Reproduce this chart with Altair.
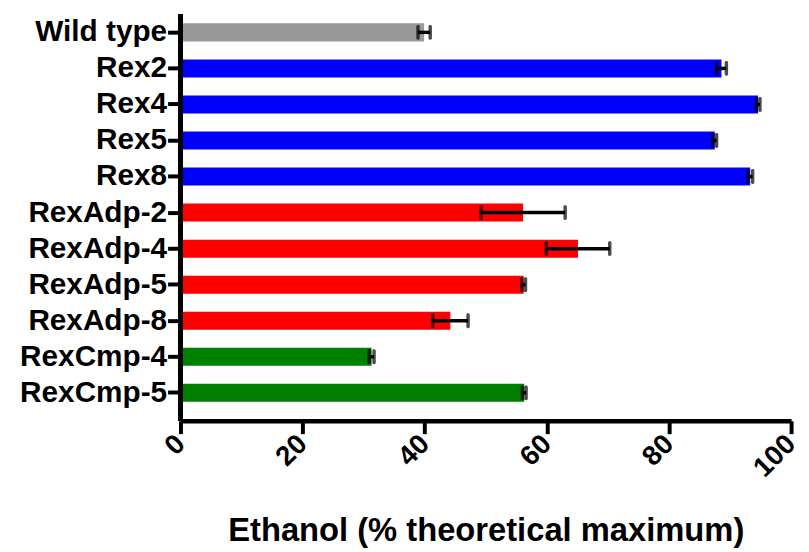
import altair as alt
import pandas as pd

strains = ["Wild type", "Rex2", "Rex4", "Rex5", "Rex8",
           "RexAdp-2", "RexAdp-4", "RexAdp-5", "RexAdp-8",
           "RexCmp-4", "RexCmp-5"]
means = [39.9, 88.6, 94.6, 87.5, 93.3, 56.1, 65.1, 56.2, 44.2, 31.3, 56.3]
errors = [1.0, 0.8, 0.3, 0.3, 0.4, 6.9, 5.2, 0.3, 2.9, 0.4, 0.3]
groups = ["Wild type", "Rex", "Rex", "Rex", "Rex",
          "RexAdp", "RexAdp", "RexAdp", "RexAdp", "RexCmp", "RexCmp"]
group_names = ["Wild type", "Rex", "RexAdp", "RexCmp"]
group_colors = ["#999999", "#0000FF", "#FF0000", "#008000"]
x_ticks = [0, 20, 40, 60, 80, 100]

df = pd.DataFrame({"strain": strains, "mean": means, "err": errors, "group": groups})
df["lo"] = df["mean"] - df["err"]
df["hi"] = df["mean"] + df["err"]

W = 616
H = 410
BAND = 400
FONT = "Liberation Sans"

y_enc = alt.Y(
    "strain:N", sort=strains,
    scale=alt.Scale(range=[0, BAND], paddingInner=0.5, paddingOuter=0.25),
    axis=alt.Axis(title=None, labelFont=FONT, labelFontWeight="bold", labelFontSize=30,
                  labelColor="black", labelPadding=1, labelLimit=400,
                  tickSize=13, tickWidth=4, tickColor="black", domain=False),
)

x_scale = alt.Scale(domain=[0, 100], nice=False, zero=True)

bars = alt.Chart(df).mark_bar().encode(
    x=alt.X("mean:Q", scale=x_scale,
            axis=alt.Axis(values=x_ticks, title="Ethanol (% theoretical maximum)",
                          titleFont=FONT, titleFontWeight="bold", titleFontSize=33,
                          titleColor="black", titleBaseline="alphabetic", titleY=121,
                          labelFont=FONT, labelFontWeight="bold", labelFontSize=28,
                          labelColor="black", labelAngle=315, labelAlign="right",
                          labelBaseline="middle", labelPadding=6,
                          tickSize=13, tickWidth=4, tickColor="black",
                          domainWidth=4.5, domainColor="black", grid=False)),
    y=y_enc,
    color=alt.Color("group:N", scale=alt.Scale(domain=group_names, range=group_colors), legend=None),
)

err_line = alt.Chart(df).mark_rule(color="black", strokeWidth=3.5).encode(
    x=alt.X("lo:Q", scale=x_scale), x2="hi:Q", y=alt.Y("strain:N", sort=strains)
)
cap_lo = alt.Chart(df).mark_tick(color="black", thickness=3.5, size=15, cornerRadius=1.5).encode(
    x=alt.X("lo:Q", scale=x_scale), y=alt.Y("strain:N", sort=strains)
)
cap_hi = alt.Chart(df).mark_tick(color="black", thickness=3.5, size=15, cornerRadius=1.5).encode(
    x=alt.X("hi:Q", scale=x_scale), y=alt.Y("strain:N", sort=strains)
)
y_line = alt.Chart(df).mark_rule(color="black", strokeWidth=4.5).encode(
    x=alt.value(0), y=alt.value(0), y2=alt.value(H)
)

chart = alt.layer(bars, err_line, cap_lo, cap_hi, y_line).properties(
    width=W, height=H,
    autosize=alt.AutoSizeParams(type="none"),
    padding={"left": 174, "top": 4, "right": 10, "bottom": 130},
).configure_view(stroke=None)

chart.save("out.html", embed_options={"renderer": "svg", "actions": False})
